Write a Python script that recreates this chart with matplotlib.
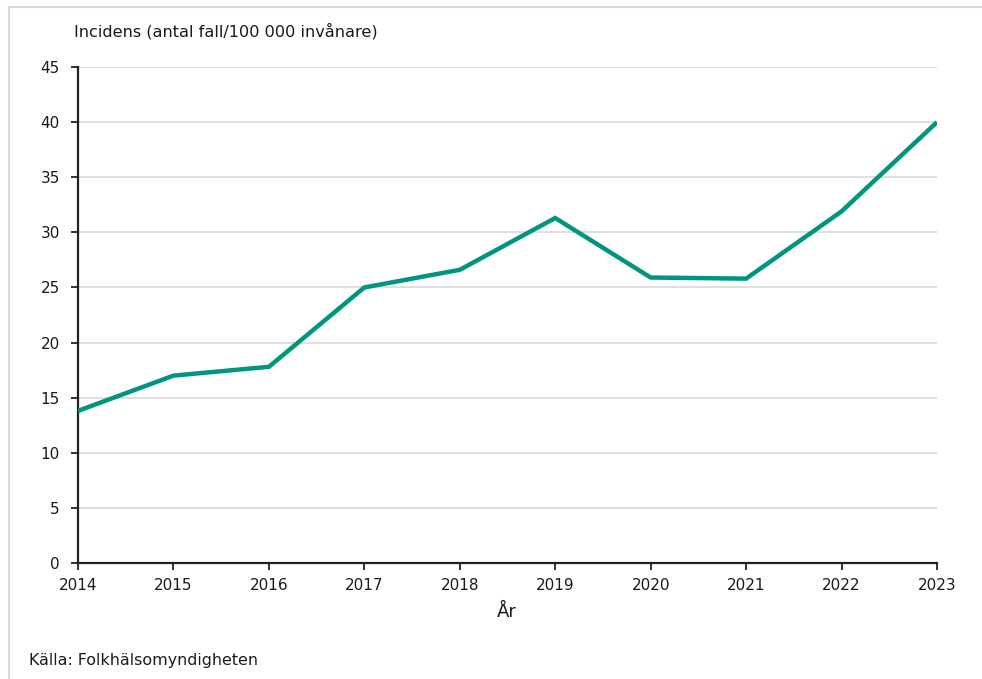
import numpy as np
import matplotlib.pyplot as plt
from matplotlib.lines import Line2D

# data
years = [2014, 2015, 2016, 2017, 2018, 2019, 2020, 2021, 2022, 2023]
incidens = [13.8, 17.0, 17.8, 25.0, 26.6, 31.3, 25.9, 25.8, 31.9, 40.0]
yticks = list(range(0, 50, 5))

W, H = 982, 679
fig = plt.figure(figsize=(W / 100, H / 100), dpi=100)
plt.rcParams['font.family'] = ['DejaVu Sans']

ax = fig.add_axes([78 / W, 1 - 563 / H, (937 - 78) / W, (563 - 67) / H])
ax.plot(years, incidens, color='#00957f', linewidth=3.2, solid_capstyle='butt',
        solid_joinstyle='miter', zorder=3)

ax.set_xlim(years[0], years[-1])
ax.set_ylim(0, 45)
ax.set_xticks(years)
ax.set_yticks(yticks)
ax.grid(axis='y', color='#d9d9d9', linewidth=1.2)
ax.set_axisbelow(True)
for s in ['top', 'right']:
    ax.spines[s].set_visible(False)
for s in ['left', 'bottom']:
    ax.spines[s].set_color('#222222')
    ax.spines[s].set_linewidth(1.6)
ax.tick_params(axis='both', labelsize=11, color='#222222', width=1.3, length=5,
               labelcolor='#1a1a1a')
ax.tick_params(axis='x', pad=6)
ax.tick_params(axis='y', pad=8)

fig.text(74 / W, 1 - 31 / H, 'Incidens (antal fall/100 000 invånare)', fontsize=11.6,
         ha='left', va='center', color='#1a1a1a')
fig.text(507 / W, 1 - 612 / H, 'År', fontsize=13, ha='center', va='center',
         color='#1a1a1a')
fig.text(29 / W, 1 - 660 / H, 'Källa: Folkhälsomyndigheten', fontsize=11.4,
         ha='left', va='center', color='#1a1a1a')

# light frame around the figure (top and left edges visible)
fig.add_artist(Line2D([9 / W, 1.0], [1 - 7 / H, 1 - 7 / H], transform=fig.transFigure,
                      color='#d9d9d9', linewidth=1.5))
fig.add_artist(Line2D([9 / W, 9 / W], [0.0, 1 - 7 / H], transform=fig.transFigure,
                      color='#d9d9d9', linewidth=1.5))

fig.savefig('out.png', dpi=100)
